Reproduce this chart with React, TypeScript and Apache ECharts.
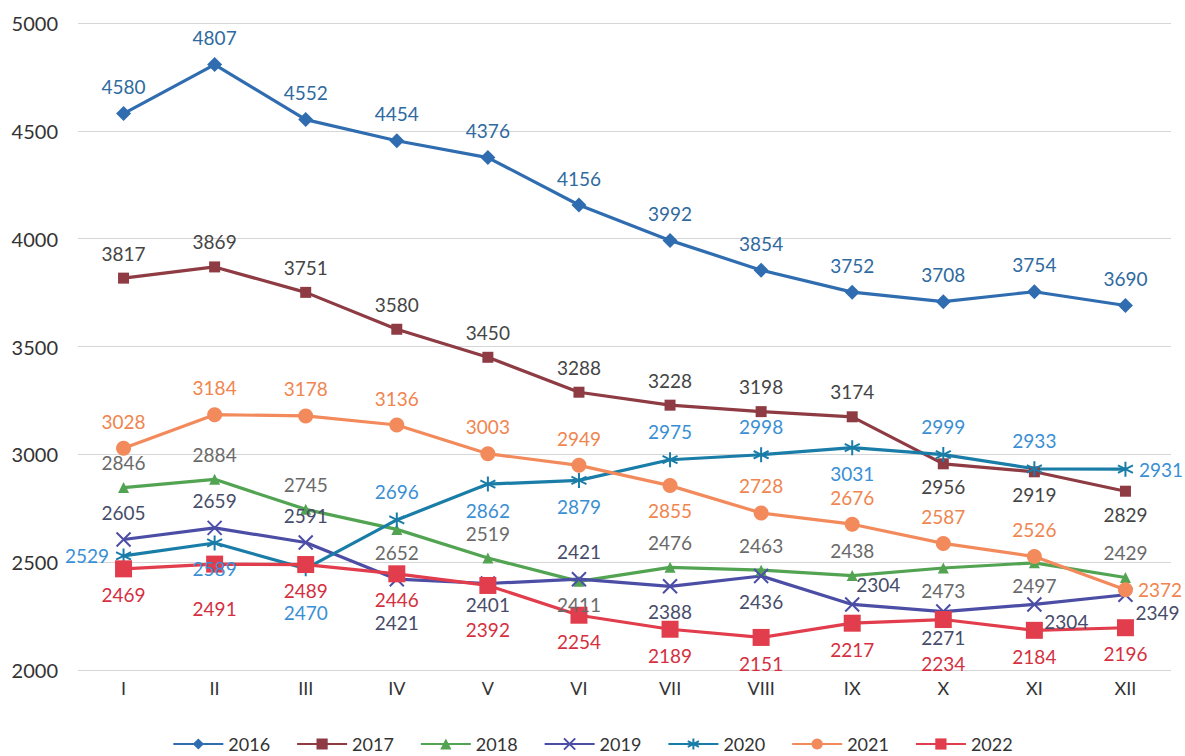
import React, { useEffect, useRef } from "react";
import * as echarts from "echarts";

const categories = ["I", "II", "III", "IV", "V", "VI", "VII", "VIII", "IX", "X", "XI", "XII"];
const yTicks = [2000, 2500, 3000, 3500, 4000, 4500, 5000];

const s2016 = [4580, 4807, 4552, 4454, 4376, 4156, 3992, 3854, 3752, 3708, 3754, 3690];
const s2017 = [3817, 3869, 3751, 3580, 3450, 3288, 3228, 3198, 3174, 2956, 2919, 2829];
const s2018 = [2846, 2884, 2745, 2652, 2519, 2411, 2476, 2463, 2438, 2473, 2497, 2429];
const s2019 = [2605, 2659, 2591, 2421, 2401, 2421, 2388, 2436, 2304, 2271, 2304, 2349];
const s2020 = [2529, 2589, 2470, 2696, 2862, 2879, 2975, 2998, 3031, 2999, 2933, 2931];
const s2021 = [3028, 3184, 3178, 3136, 3003, 2949, 2855, 2728, 2676, 2587, 2526, 2372];
const s2022 = [2469, 2491, 2489, 2446, 2392, 2254, 2189, 2151, 2217, 2234, 2184, 2196];

const FONT = "Lato";

const posMap: Record<string, any> = {
  t: { position: "top", distance: 10 },
  b: { position: "bottom", distance: 8 },
  b1: { position: "bottom", distance: 3 },
  bb: { position: "bottom", distance: 26 },
  b2: { position: "bottom", distance: 26 },
  l: { position: "left", distance: 6 },
  r: { position: "right", distance: 5 },
  tr: { position: "top", distance: 2, offset: [26, 0] },
  br: { position: "bottom", distance: 0, offset: [32, 0] },
};

const lp = (s: string) => s.split(" ");

const seriesDefs = [
  { name: "2016", data: s2016, color: "#2f6db0", labelColor: "#2f6aa0", symbol: "diamond", size: 15, pos: lp("t t t t t t t t t t t t") },
  { name: "2017", data: s2017, color: "#8e3b43", labelColor: "#454545", symbol: "rect", size: 11, pos: lp("t t t t t t t t t b b b") },
  { name: "2018", data: s2018, color: "#52a352", labelColor: "#6a6a6a", symbol: "triangle", size: 11, pos: lp("t t t b t b t t t b b t") },
  { name: "2019", data: s2019, color: "#4c4ea6", labelColor: "#474c6a", symbol: "path://M0,0L10,10M10,0L0,10", size: 14, stroke: true, pos: lp("t t t bb b1 t b b tr b br br") },
  { name: "2020", data: s2020, color: "#1a7da8", labelColor: "#3a8fd4", symbol: "path://M5,0L5,10M0.7,2.5L9.3,7.5M9.3,2.5L0.7,7.5", size: 15, stroke: true, pos: lp("l b bb t b b t t b t t r") },
  { name: "2021", data: s2021, color: "#f28a5c", labelColor: "#f0854f", symbol: "circle", size: 15, pos: lp("t t t t t t b t t t t r") },
  { name: "2022", data: s2022, color: "#e23d4c", labelColor: "#d4303f", symbol: "rect", size: 17, pos: lp("b bb b b b2 b b b b bb b b") },
];

export default function App() {
  const ref = useRef<HTMLDivElement>(null);
  useEffect(() => {
    if (!ref.current) return;
    const chart = echarts.init(ref.current, undefined, { renderer: "svg" });
    const series = seriesDefs.map((d) => ({
      name: d.name,
      type: "line",
      data: d.data.map((v, i) => ({ value: v, label: posMap[d.pos[i]] })),
      symbol: d.symbol,
      symbolSize: d.size,
      showAllSymbol: true,
      lineStyle: { color: d.color, width: 3.2 },
      itemStyle: d.stroke
        ? { color: d.color, borderColor: d.color, borderWidth: 2 }
        : { color: d.color },
      label: {
        show: true,
        color: d.labelColor,
        fontFamily: FONT,
        fontSize: 19,
      },
      emphasis: { disabled: true },
    }));
    chart.setOption({
      animation: false,
      backgroundColor: "#ffffff",
      grid: { left: 78, right: 14, top: 23, bottom: 86 },
      xAxis: {
        type: "category",
        data: categories,
        boundaryGap: true,
        axisLine: { show: false },
        axisTick: { show: false },
        axisLabel: { color: "#333", fontFamily: FONT, fontSize: 18, margin: 9 },
      },
      yAxis: {
        type: "value",
        min: yTicks[0],
        max: yTicks[yTicks.length - 1],
        interval: 500,
        axisLine: { show: false },
        axisTick: { show: false },
        splitLine: { lineStyle: { color: "#d6d6d6", width: 1 } },
        axisLabel: { color: "#333", fontFamily: FONT, fontSize: 20, margin: 20, formatter: (v: number) => String(v) },
      },
      legend: {
        top: 730,
        left: "center",
        itemWidth: 50,
        itemHeight: 14,
        itemGap: 26,
        textStyle: { fontFamily: FONT, fontSize: 18, color: "#333" },
        data: seriesDefs.map((d) => d.name),
      },
      series,
    });
    return () => chart.dispose();
  }, []);
  return <div ref={ref} style={{ position: "absolute", left: 0, top: 0, width: 1185, height: 756 }} />;
}
